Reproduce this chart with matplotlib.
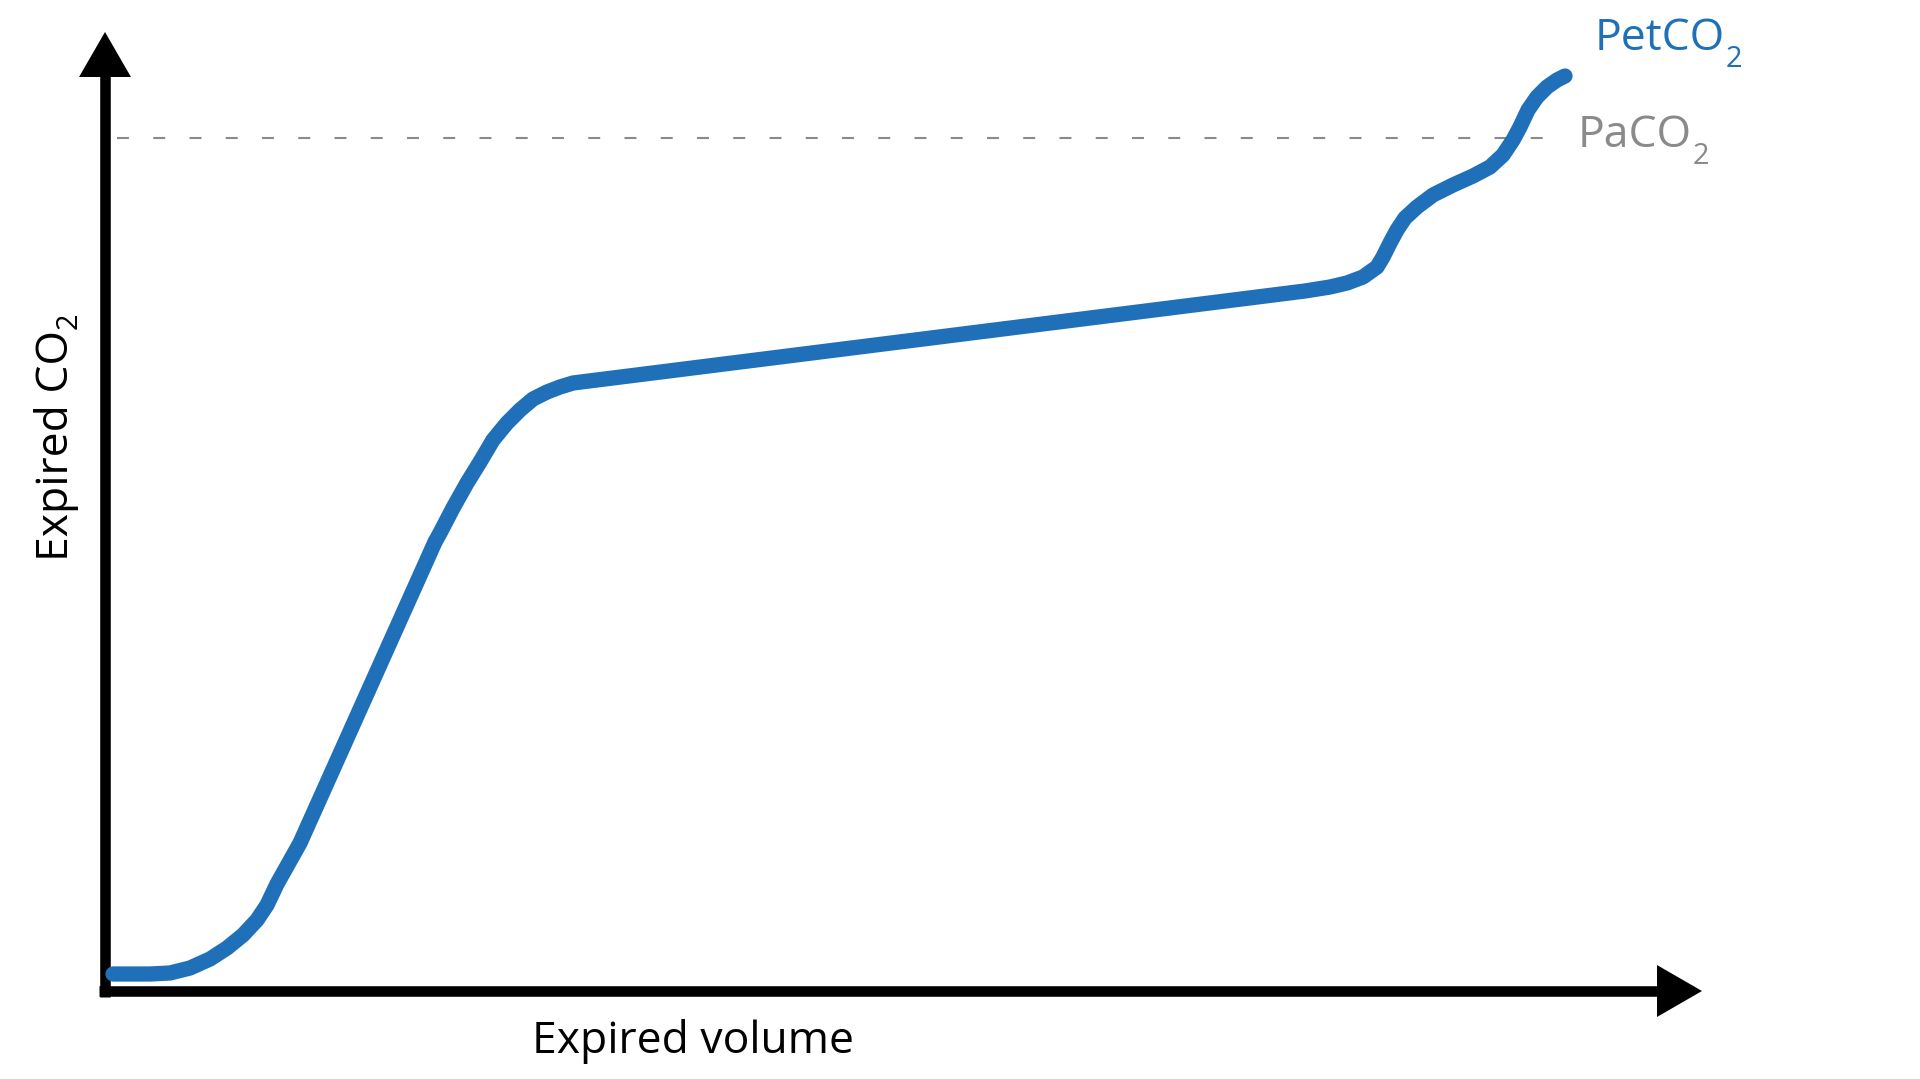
"""Capnogram sketch: expired CO2 vs expired volume, PetCO2 above PaCO2."""
import matplotlib
matplotlib.use("Agg")
import matplotlib.pyplot as plt

plt.rcParams['font.family'] = ['Open Sans', 'DejaVu Sans']
plt.rcParams['lines.scale_dashes'] = False

# curve (units: pixel offsets from the axis corner)
volume = [8, 45, 65, 85, 105, 122, 138, 152, 162, 172, 195,
          330, 335, 348, 362, 375, 388, 402, 415, 428, 442, 455, 468,
          1200, 1225, 1242, 1258, 1272, 1278, 1285, 1292, 1300, 1312, 1328, 1348,
          1368, 1385, 1398, 1408, 1415, 1423, 1432, 1442, 1452, 1460]
co2 = [17, 17, 18, 23, 32, 43, 56, 71, 86, 107, 148,
       449, 458, 483, 508, 529, 551, 568, 581, 592, 599, 604, 608,
       700, 704, 708, 714, 724, 734, 748, 761, 773, 784, 796, 806,
       815, 824, 836, 851, 864, 881, 894, 904, 911, 915]
paco2 = 853
paco2_span = [12, 1439]

BLUE = '#1f70b8'
GREY = '#8a8a8a'

fig = plt.figure(figsize=(19.2, 10.79), dpi=100)
ax = fig.add_axes([105/1920, 88/1079, 1597/1920, 959/1079])
ax.set_xlim(0, 1597)
ax.set_ylim(0, 959)
ax.axis('off')

# axes drawn as thick arrows
ax.plot([0, 0], [-6, 915], color='k', lw=7.6, solid_capstyle='butt', clip_on=False)
ax.plot([-6, 1552], [0, 0], color='k', lw=7.6, solid_capstyle='butt', clip_on=False)
head = dict(arrowstyle='-|>,head_length=32.4,head_width=18.7', lw=0, fc='k', ec='none',
            shrinkA=0, shrinkB=0, mutation_scale=1)
ax.annotate('', xy=(0, 959), xytext=(0, 900), arrowprops=head, annotation_clip=False)
ax.annotate('', xy=(1597, 0), xytext=(1530, 0), arrowprops=head, annotation_clip=False)

# PaCO2 reference level
ax.plot(paco2_span, [paco2, paco2], color=GREY, lw=1.5, dashes=(8.6, 17.5), clip_on=False)

ax.plot(volume, co2, color=BLUE, lw=11, solid_capstyle='round',
        solid_joinstyle='round', clip_on=False, zorder=3)


def label(x, y, main, color='k', rot=0):
    t = ax.text(x, y, main, color=color, fontsize=32, ha='left', va='baseline',
                rotation=rot, rotation_mode='anchor')
    # subscript 2, set a bit below the baseline
    if rot:
        xy, off = (1, 1), (-1.5, 1)
    else:
        xy, off = (1, 0), (0, -4.5)
    ax.annotate('2', xy=xy, xycoords=t, xytext=off, textcoords='offset points',
                color=color, fontsize=21, ha='left', va='baseline',
                rotation=rot, rotation_mode='anchor')


label(1490, 941, 'PetCO', BLUE)
label(1473, 844, 'PaCO', GREY)
label(-37, 430, 'Expired CO', rot=90)
ax.text(588, -62, 'Expired volume', fontsize=32, va='baseline', ha='center')

fig.savefig('out.png', dpi=100)
